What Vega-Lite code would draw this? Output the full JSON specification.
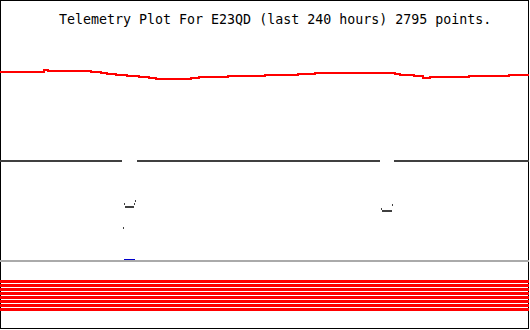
{
  "$schema": "https://vega.github.io/schema/vega-lite/v6.json",
  "width": 529,
  "height": 329,
  "padding": 0,
  "autosize": {"type": "none"},
  "background": "white",
  "title": {
    "text": "Telemetry Plot For E23QD (last 240 hours) 2795 points.",
    "anchor": "start",
    "frame": "group",
    "dx": 59,
    "offset": -37,
    "baseline": "alphabetic",
    "font": "DejaVu Sans Mono",
    "fontSize": 13.3,
    "fontWeight": "normal",
    "color": "#000000"
  },
  "config": {
    "view": {"stroke": "#000000", "strokeWidth": 2}
  },
  "datasets": {
    "bands": [
      {"v": 47.5}, {"v": 43.5}, {"v": 39.5}, {"v": 35.5},
      {"v": 31.5}, {"v": 27.5}, {"v": 23.5}, {"v": 19.5}
    ],
    "baseline": [{"v": 68}],
    "blue": [{"h1": 56.26, "h2": 61.25, "v": 69.5}],
    "dark": [
      {"h1": 0, "h2": 55.35, "v": 168},
      {"h1": 62.16, "h2": 172.4, "v": 168},
      {"h1": 178.75, "h2": 240, "v": 168},
      {"h1": 56.71, "h2": 60.79, "v": 122},
      {"h1": 173.31, "h2": 177.85, "v": 118}
    ],
    "ticks": [
      {"h": 56.49, "v1": 124, "v2": 126},
      {"h": 61.02, "v1": 124, "v2": 126},
      {"h": 61.47, "v1": 127, "v2": 129},
      {"h": 56.03, "v1": 100, "v2": 102},
      {"h": 178.07, "v1": 123, "v2": 125},
      {"h": 173.08, "v1": 119, "v2": 121}
    ],
    "red": [
      {"h": 0, "v": 257}, {"h": 19.96, "v": 259}, {"h": 21.78, "v": 258},
      {"h": 41.29, "v": 257}, {"h": 45.82, "v": 256}, {"h": 48.54, "v": 255},
      {"h": 52.63, "v": 254}, {"h": 57.62, "v": 253}, {"h": 63.06, "v": 252},
      {"h": 67.6, "v": 251}, {"h": 70.78, "v": 250}, {"h": 86.65, "v": 251},
      {"h": 90.28, "v": 252}, {"h": 103.44, "v": 253}, {"h": 120.23, "v": 254},
      {"h": 135.2, "v": 255}, {"h": 142.91, "v": 256}, {"h": 179.21, "v": 255},
      {"h": 181.48, "v": 254}, {"h": 187.83, "v": 253}, {"h": 191.91, "v": 251},
      {"h": 195.09, "v": 252}, {"h": 212.78, "v": 253}, {"h": 230.93, "v": 254},
      {"h": 240, "v": 254}
    ]
  },
  "layer": [
    {
      "data": {"name": "bands"},
      "mark": {"type": "rule", "color": "#ff0000", "strokeWidth": 3},
      "encoding": {
        "y": {"field": "v", "type": "quantitative", "scale": {"domain": [0, 329], "nice": false}, "axis": null}
      }
    },
    {
      "data": {"name": "baseline"},
      "mark": {"type": "rule", "color": "#aaaaaa", "strokeWidth": 2},
      "encoding": {
        "y": {"field": "v", "type": "quantitative", "scale": {"domain": [0, 329], "nice": false}, "axis": null}
      }
    },
    {
      "data": {"name": "blue"},
      "mark": {"type": "rule", "color": "#0000cc", "strokeWidth": 1},
      "encoding": {
        "x": {"field": "h1", "type": "quantitative", "scale": {"domain": [0, 240], "nice": false}, "axis": null},
        "x2": {"field": "h2"},
        "y": {"field": "v", "type": "quantitative", "scale": {"domain": [0, 329], "nice": false}, "axis": null}
      }
    },
    {
      "data": {"name": "dark"},
      "mark": {"type": "rule", "color": "#404040", "strokeWidth": 2},
      "encoding": {
        "x": {"field": "h1", "type": "quantitative", "scale": {"domain": [0, 240], "nice": false}, "axis": null},
        "x2": {"field": "h2"},
        "y": {"field": "v", "type": "quantitative", "scale": {"domain": [0, 329], "nice": false}, "axis": null}
      }
    },
    {
      "data": {"name": "ticks"},
      "mark": {"type": "rule", "color": "#404040", "strokeWidth": 1},
      "encoding": {
        "x": {"field": "h", "type": "quantitative", "scale": {"domain": [0, 240], "nice": false}, "axis": null},
        "y": {"field": "v1", "type": "quantitative", "scale": {"domain": [0, 329], "nice": false}, "axis": null},
        "y2": {"field": "v2"}
      }
    },
    {
      "data": {"name": "red"},
      "mark": {"type": "line", "color": "#ff0000", "strokeWidth": 2, "interpolate": "step-after"},
      "encoding": {
        "x": {"field": "h", "type": "quantitative", "scale": {"domain": [0, 240], "nice": false}, "axis": null},
        "y": {"field": "v", "type": "quantitative", "scale": {"domain": [0, 329], "nice": false}, "axis": null}
      }
    }
  ]
}
